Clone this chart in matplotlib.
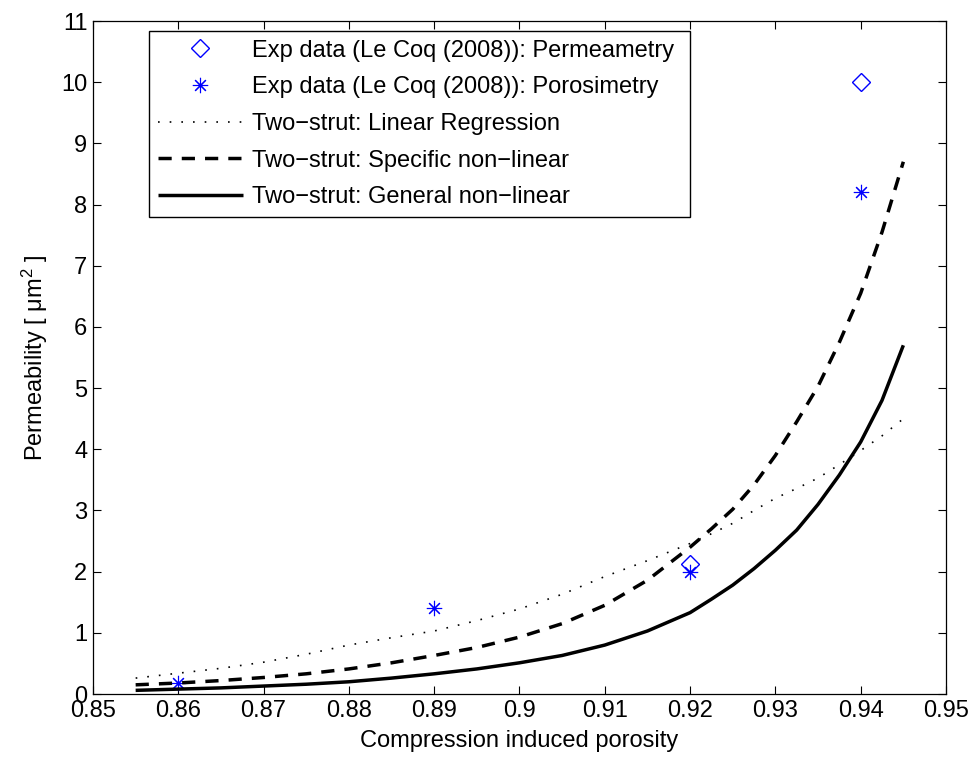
import matplotlib
matplotlib.use("Agg")
import matplotlib.pyplot as plt
from matplotlib.ticker import FuncFormatter

plt.rcParams['font.family'] = ['Liberation Sans', 'DejaVu Sans']
plt.rcParams['mathtext.fontset'] = 'custom'
plt.rcParams['mathtext.rm'] = 'Liberation Sans'
plt.rcParams['mathtext.it'] = 'Liberation Sans:italic'

# Experimental points (Le Coq 2008)
perm_x = [0.92, 0.94]
perm_y = [2.12, 10.0]
poro_x = [0.86, 0.89, 0.92, 0.94]
poro_y = [0.18, 1.40, 2.0, 8.2]

# Model curves
phi = [0.855, 0.86, 0.865, 0.87, 0.875, 0.88, 0.885, 0.89, 0.895, 0.90,
       0.905, 0.91, 0.915, 0.92, 0.9225, 0.925, 0.9275, 0.93, 0.9325,
       0.935, 0.9375, 0.94, 0.9425, 0.945]
k_linreg = [0.26, 0.34, 0.42, 0.52, 0.65, 0.80, 0.92, 1.03, 1.20, 1.39,
            1.63, 1.92, 2.18, 2.46, 2.62, 2.79, 3.00, 3.20, 3.36,
            3.53, 3.75, 3.98, 4.22, 4.50]
k_specific = [0.15, 0.18, 0.22, 0.27, 0.33, 0.41, 0.51, 0.63, 0.76, 0.93,
              1.15, 1.45, 1.86, 2.40, 2.70, 3.02, 3.42, 3.90, 4.45,
              5.03, 5.75, 6.55, 7.55, 8.70]
k_general = [0.06, 0.08, 0.10, 0.13, 0.16, 0.20, 0.26, 0.33, 0.41, 0.51,
             0.63, 0.80, 1.03, 1.33, 1.55, 1.78, 2.05, 2.35, 2.68,
             3.10, 3.58, 4.12, 4.80, 5.70]

fig = plt.figure(figsize=(9.8, 7.65), dpi=100)
ax = fig.add_axes([0.0949, 0.0928, 0.8704, 0.8797])

ax.plot(perm_x, perm_y, linestyle='none', marker='D', markersize=9,
        markerfacecolor='none', markeredgecolor='#0000ff', markeredgewidth=1.0,
        label='Exp data (Le Coq (2008)): Permeametry')
ax.plot(poro_x, poro_y, linestyle='none', marker=(8, 2, 0), markersize=11,
        color='#0000ff', markeredgewidth=0.8,
        label='Exp data (Le Coq (2008)): Porosimetry')
ax.plot(phi, k_linreg, color='k', lw=1.2, dashes=(1, 6),
        label='Two\u2212strut: Linear Regression')
ax.plot(phi, k_specific, color='k', lw=2.5, dashes=(3.8, 2.9),
        label='Two\u2212strut: Specific non\u2212linear')
ax.plot(phi, k_general, color='k', lw=2.5, solid_capstyle='butt',
        label='Two\u2212strut: General non\u2212linear')

ax.set_xlim(0.85, 0.95)
ax.set_ylim(0, 11)
ax.set_xticks([0.85 + 0.01 * i for i in range(11)])
ax.set_yticks(range(12))
ax.xaxis.set_major_formatter(FuncFormatter(lambda v, p: '%g' % round(v, 2)))
ax.tick_params(direction='in', length=5.5, width=0.8, labelsize=17,
               top=True, right=True, pad=4)
for s in ax.spines.values():
    s.set_linewidth(0.9)

ax.set_xlabel('Compression induced porosity', fontsize=17, labelpad=6)
ax.set_ylabel('Permeability [ \u03bcm$^2$ ]', fontsize=17, labelpad=8)

# legend box stretched to the width it has in the reference
leg = ax.legend(loc='upper left', bbox_to_anchor=(0.0657, 0.5, 0.634, 0.485),
                mode='expand', fontsize=17,
                handlelength=3.6, handletextpad=0.38, labelspacing=0.62,
                borderpad=0.36, borderaxespad=0, fancybox=False, framealpha=1,
                edgecolor='k', numpoints=1)
leg.get_frame().set_linewidth(1.0)

fig.savefig('out.png', dpi=100)
